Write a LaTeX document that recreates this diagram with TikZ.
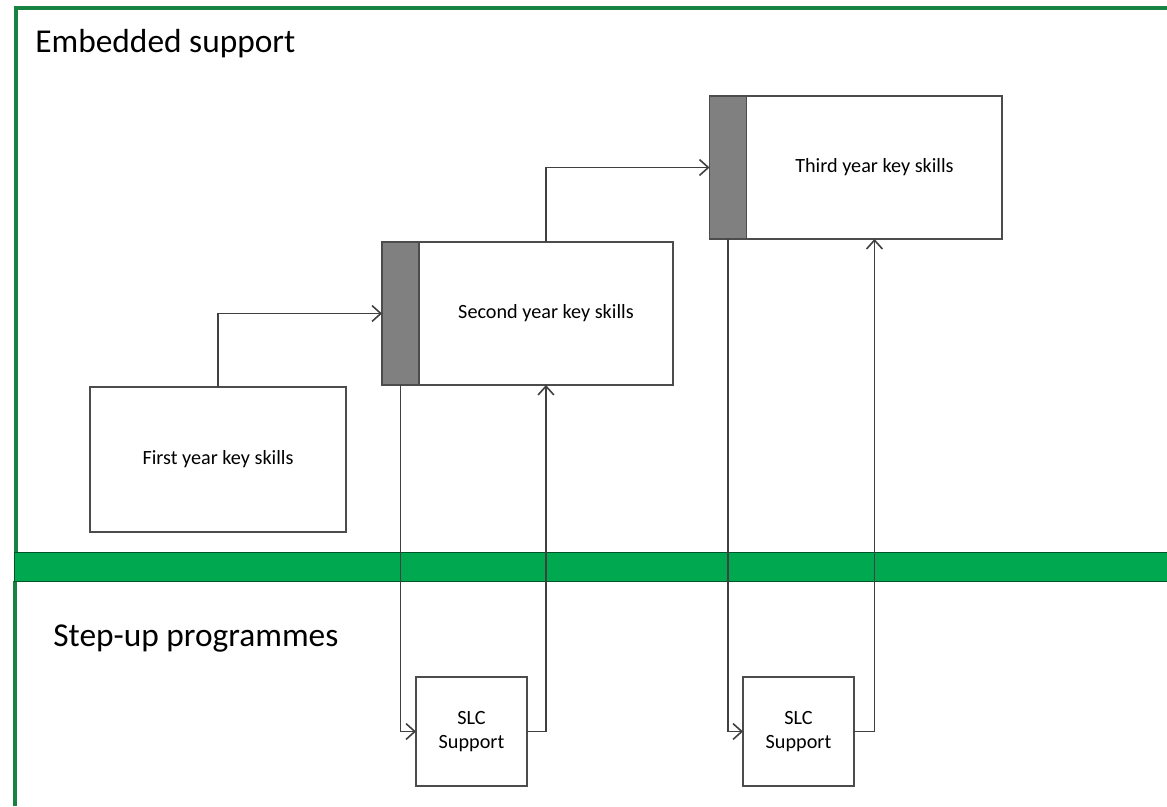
\documentclass[tikz,border=0pt]{standalone}
\usepackage{fontspec}
\setmainfont{Carlito}
\usetikzlibrary{positioning,arrows.meta}
\definecolor{framegreen}{RGB}{24,130,64}
\definecolor{bargreen}{RGB}{0,168,80}
\definecolor{stripgray}{RGB}{128,128,128}
\begin{document}
\begin{tikzpicture}[
    x=0.02cm,
    y=-0.02cm,
    skillbox/.style={
        rectangle,
        draw=black!70,
        fill=white,
        line width=1.1pt,
        inner sep=0pt,
        outer sep=0pt,
        minimum height=2.86cm,
        align=center,
        font=\fontsize{11.5}{14}\selectfont
    },
    stripbox/.style={
        skillbox,
        fill=stripgray,
        minimum width=0.74cm
    },
    slcbox/.style={
        skillbox,
        minimum width=2.22cm,
        minimum height=2.18cm
    },
    title/.style={
        anchor=base west,
        inner sep=0pt,
        font=\fontsize{19}{23}\selectfont
    },
    arrow/.style={
        -{Straight Barb[length=5pt,width=9pt]},
        draw=black!75,
        line width=0.9pt
    }
]

% Background and frames
\useasboundingbox[fill=white] (0,0) rectangle (1167,806);
\draw[framegreen, line width=1.8pt] (16,552) -- (16,8) -- (1167,8);
\draw[framegreen, line width=1.8pt] (15,581) -- (15,806);
\fill[bargreen, draw=black!50!bargreen, line width=0.5pt] (14,552) rectangle (1170,581);

% Titles
\node[title] (embtitle) at (35,52) {Embedded support};
\node[title] (steptitle) at (53,646) {Step-up programmes};

% First year
\node[skillbox, minimum width=5.12cm, minimum height=2.9cm] (first) at (218,459.5) {First year key skills};

% Second year
\node[stripbox] (strip2) at (400.5,313.5) {};
\node[skillbox, minimum width=5.08cm, right=0pt of strip2] (second) {Second year key skills};

% Third year
\node[stripbox] (strip3) at (728,167.5) {};
\node[skillbox, minimum width=5.12cm, right=0pt of strip3] (third) {Third year key skills};

% SLC support
\node[slcbox] (slc1) at (471.5,731.5) {SLC\\Support};
\node[slcbox] (slc2) at (798.5,731.5) {SLC\\Support};

% Connectors
\draw[arrow] (first.north) |- (strip2.west);
\draw[arrow] (second.north) |- (strip3.west);
\draw[arrow] (strip2.south) |- (slc1.west);
\draw[arrow] (slc1.east) -| (second.south);
\draw[arrow] (strip3.south) |- (slc2.west);
\draw[arrow] (slc2.east) -| (third.south);

\end{tikzpicture}
\end{document}
